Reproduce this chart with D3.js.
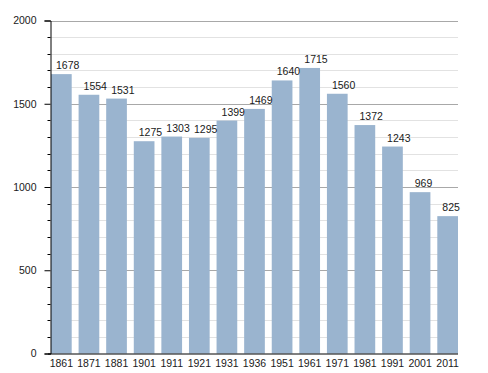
<!DOCTYPE html>
<html>
  <head>
    <meta charset="utf-8">
    <title>Population</title>
    <style>
      body { margin: 0; background: white; }
      text { font-family: "Liberation Sans", Arial, sans-serif; font-size: 10.5px; fill: #1a1a1a; }
      .grid line { stroke: #e2e2e2; stroke-width: 1; }
      .grid line.major { stroke: #a8a8a8; }
      .bar { fill: #9ab4cf; }
    </style>
    <script src="https://d3js.org/d3.v7.min.js"></script>
  </head>
  <body>
    <script>
      const years = ["1861", "1871", "1881", "1901", "1911", "1921", "1931", "1936",
                     "1951", "1961", "1971", "1981", "1991", "2001", "2011"];
      const population = [1678, 1554, 1531, 1275, 1303, 1295, 1399, 1469,
                          1640, 1715, 1560, 1372, 1243, 969, 825];
      const yTicks = [0, 500, 1000, 1500, 2000];

      const width = 488, height = 373;
      const plot = { left: 51, right: 458, top: 20.5, bottom: 353.5 };

      const svg = d3.select('body').append('svg')
        .attr('width', width)
        .attr('height', height);

      const x = d3.scaleBand()
        .domain(years)
        .range([plot.left, plot.right])
        .paddingInner(0.25)
        .paddingOuter(0);

      const y = d3.scaleLinear()
        .domain([0, 2000])
        .range([plot.bottom, plot.top]);

      // grid lines every 100, darker every 500
      svg.append('g').attr('class', 'grid')
        .selectAll('line')
        .data(d3.range(100, 2001, 100))
        .enter().append('line')
          .attr('class', d => d % 500 === 0 ? 'major' : null)
          .attr('x1', plot.left)
          .attr('x2', plot.right)
          .attr('y1', d => Math.round(y(d)) + 0.5)
          .attr('y2', d => Math.round(y(d)) + 0.5);

      svg.append('g').selectAll('rect')
        .data(population)
        .enter().append('rect')
          .attr('class', 'bar')
          .attr('x', (d, i) => x(years[i]))
          .attr('width', x.bandwidth())
          .attr('y', d => y(d))
          .attr('height', d => y(0) - y(d));

      svg.append('g').selectAll('text')
        .data(population)
        .enter().append('text')
          .attr('x', (d, i) => x(years[i]) + 5)
          .attr('y', d => y(d) - 5)
          .text(d => d);

      // y axis: minor ticks every 100, labelled ticks every 500
      const yAxis = d3.axisLeft(y).tickValues(yTicks).tickFormat(d3.format('d'))
        .tickSize(6).tickPadding(8);
      const yg = svg.append('g')
        .attr('transform', `translate(${plot.left - 0.5},0)`)
        .call(yAxis);
      yg.select('.domain').attr('stroke', '#000');
      yg.selectAll('.tick text').attr('font-size', null).attr('font-family', null);
      yg.selectAll('line.minor')
        .data(d3.range(100, 2000, 100).filter(d => d % 500 !== 0))
        .enter().append('line')
          .attr('class', 'minor')
          .attr('stroke', '#000')
          .attr('x1', -3).attr('x2', 0)
          .attr('y1', d => Math.round(y(d)) + 0.5)
          .attr('y2', d => Math.round(y(d)) + 0.5);

      const xAxis = d3.axisBottom(x).tickSize(0).tickPadding(6);
      const xg = svg.append('g')
        .attr('transform', `translate(0,${plot.bottom})`)
        .call(xAxis);
      xg.select('.domain').attr('stroke', '#000').attr('d', `M${plot.left - 3},0.5H${plot.right}`);
      xg.selectAll('.tick text').attr('font-size', null).attr('font-family', null);
    </script>
  </body>
</html>
